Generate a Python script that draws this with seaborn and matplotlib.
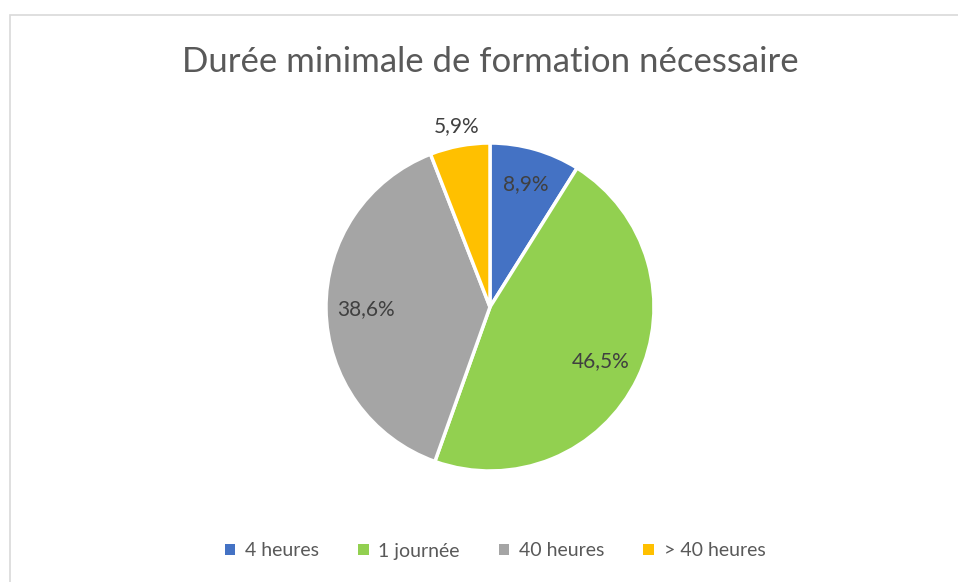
import matplotlib
matplotlib.use("Agg")
import matplotlib.pyplot as plt
import seaborn as sns
import numpy as np
from matplotlib.patches import Rectangle

categories = ["4 heures", "1 journée", "40 heures", "> 40 heures"]
values = [8.9, 46.5, 38.6, 5.9]
colors = ["#4472C4", "#92D050", "#A5A5A5", "#FFC000"]
label_dist = [0.78, 0.75, 0.755, 1.12]
title = "Durée minimale de formation nécessaire"

sns.set_theme(style="white")
plt.rcParams['font.family'] = ['Lato', 'DejaVu Sans']

fig = plt.figure(figsize=(9.58, 5.82), dpi=100)
fig.patch.set_facecolor("white")
fig.patches.append(Rectangle((10/958, -0.1), 1.2, 1 - 15/582 + 0.1, transform=fig.transFigure,
                             fill=False, edgecolor="#D9D9D9", linewidth=1.2))

ax = fig.add_axes([326/958, 111/582, 328/958, 328/582])
wedges, _ = ax.pie(values, colors=colors, startangle=90, counterclock=False,
                   wedgeprops=dict(edgecolor="white", linewidth=2.5), radius=1.0)
ax.set_xlim(-1, 1)
ax.set_ylim(-1, 1)
ax.set_aspect("equal")
ax.axis("off")

for w, v, d in zip(wedges, values, label_dist):
    ang = np.deg2rad((w.theta1 + w.theta2) / 2)
    ax.text(d * np.cos(ang), d * np.sin(ang), f"{v:.1f}%".replace(".", ","),
            ha="center", va="center", fontsize=15, color="#404040", clip_on=False)

fig.text(490/958, 1 - 62/582, title, ha="center", va="center", fontsize=25, color="#595959")

leg = fig.legend(wedges, categories, loc="center", bbox_to_anchor=(495/958, 1 - 551/582),
                 ncol=4, frameon=False, fontsize=14, handlelength=0.55, handleheight=0.55,
                 columnspacing=2.0, handletextpad=0.5, labelcolor="#595959")
for h in leg.legend_handles:
    h.set_edgecolor("none")

fig.savefig("out.png", dpi=100, facecolor="white")
